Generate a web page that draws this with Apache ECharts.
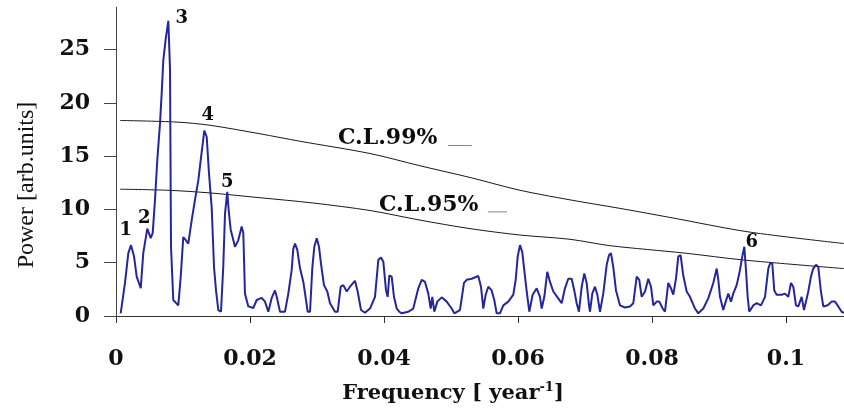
<!DOCTYPE html>
<html>
<head>
<meta charset="utf-8">
<script src="https://cdn.jsdelivr.net/npm/echarts@6/dist/echarts.min.js"></script>
<style>
html,body{margin:0;padding:0;background:#fff;}
#c{width:844px;height:408px;}
</style>
</head>
<body>
<div id="c"></div>
<script>
// ---- data ----
const freq = [0.0007,0.00134,0.00184,0.00224,0.00269,0.00309,0.00369,0.00407,0.00467,0.00518,0.00548,0.00582,0.00616,0.00657,0.00682,0.00706,0.00742,0.00781,0.00806,0.00821,0.00855,0.0093,0.00966,0.01004,0.01045,0.01079,0.0113,0.01179,0.01228,0.01264,0.01318,0.01354,0.01388,0.01428,0.01463,0.01493,0.01527,0.01567,0.01601,0.01627,0.01661,0.01682,0.01712,0.01776,0.01825,0.01876,0.019,0.01925,0.01975,0.02049,0.021,0.02175,0.02224,0.02273,0.02324,0.02373,0.02399,0.02448,0.02522,0.02572,0.02622,0.02646,0.02672,0.02706,0.02746,0.02796,0.02836,0.02861,0.02896,0.0293,0.0296,0.02996,0.0303,0.0306,0.03104,0.03154,0.03194,0.03269,0.03309,0.03354,0.03393,0.03443,0.03493,0.03567,0.03607,0.03657,0.03716,0.03791,0.03866,0.03915,0.03955,0.0399,0.0403,0.04055,0.04079,0.04115,0.04149,0.0419,0.04228,0.04264,0.04363,0.04437,0.04512,0.04563,0.04612,0.04661,0.04697,0.04721,0.04751,0.04796,0.04861,0.04936,0.0501,0.05049,0.05134,0.05194,0.05234,0.05309,0.05407,0.05448,0.05482,0.05518,0.05557,0.05607,0.05646,0.05682,0.05731,0.05781,0.05855,0.0593,0.05966,0.05996,0.0603,0.06064,0.06094,0.0613,0.06169,0.06219,0.06279,0.06328,0.06354,0.06393,0.06437,0.06478,0.06527,0.06601,0.06652,0.06701,0.06751,0.06801,0.0684,0.06876,0.0691,0.06951,0.0699,0.07025,0.0706,0.07075,0.07109,0.07149,0.07184,0.07224,0.07273,0.07324,0.07358,0.07388,0.07422,0.07463,0.07522,0.07597,0.07672,0.07721,0.07772,0.0781,0.07846,0.07896,0.07945,0.07985,0.0802,0.0807,0.08109,0.0816,0.08194,0.08243,0.08284,0.08318,0.08358,0.08393,0.08428,0.08467,0.08518,0.08567,0.08642,0.08691,0.08766,0.0884,0.08915,0.08966,0.0899,0.09015,0.09064,0.091,0.09139,0.09179,0.09213,0.09264,0.09313,0.09348,0.09378,0.09403,0.09428,0.09452,0.09512,0.09563,0.09627,0.09687,0.09736,0.09766,0.09796,0.09825,0.09861,0.09936,0.09985,0.10034,0.10075,0.10109,0.10149,0.10184,0.10234,0.10269,0.10294,0.10333,0.10373,0.10407,0.10448,0.10482,0.10522,0.10557,0.10622,0.10682,0.10731,0.10781,0.10831,0.10866];
const power = [0.25,3.1,5.9,6.65,5.6,3.7,2.6,5.9,8.2,7.3,7.8,10.9,14.6,18.1,20.9,24,26,27.7,23.2,6.5,1.5,1.0,3.7,7.4,7.1,6.8,9.0,10.9,12.7,14.6,17.4,16.8,13.4,10.2,4.6,2.4,0.55,0.4,4.6,9.6,11.65,9.9,8.1,6.5,7.1,8.4,7.8,2.1,0.9,0.75,1.5,1.7,1.35,0.4,1.7,2.4,1.8,0.4,0.4,2.1,4.3,6.3,6.8,6.2,4.5,3.2,1.5,0.4,0.4,4.5,6.5,7.3,6.5,4.9,2.9,2.3,1.2,0.4,0.4,2.75,2.9,2.3,2.75,3.3,2.3,0.56,0.3,0.7,1.8,5.25,5.5,5.1,2.4,1.8,3.8,3.7,1.8,0.7,0.4,0.25,0.4,0.7,2.6,3.4,3.2,2.1,0.7,1.8,0.4,1.35,1.75,1.35,0.7,0.25,0.56,3.1,3.4,3.5,3.75,2.75,0.7,2.0,2.75,2.4,1.5,0.25,0.25,1.0,1.35,2.0,3.4,5.6,6.65,6.0,4.3,2.3,0.4,2.0,2.6,1.8,0.7,1.8,4.15,3.2,2.3,1.65,1.2,2.6,3.5,3.5,2.4,1.2,0.4,2.75,4.0,3.1,1.0,0.4,2.1,2.75,2.0,0.4,2.1,4.8,5.7,5.9,4.6,2.4,1.0,0.8,0.9,1.2,3.7,3.4,1.8,2.3,3.5,2.75,1.0,1.35,1.35,0.7,0.4,3.1,2.6,2.0,3.5,5.6,5.7,3.8,2.3,1.8,0.7,0.25,0.7,1.65,3.1,4.45,3.4,1.8,0.56,1.35,2.1,1.35,2.1,2.9,4.3,5.6,6.5,4.3,1.8,0.4,1.0,1.2,1.0,1.8,4.45,5.0,4.9,2.4,2.0,2.0,2.1,1.8,3.1,2.75,1.0,0.9,1.8,0.56,0.4,2.3,3.7,4.45,4.8,4.6,2.3,0.9,1.0,1.35,1.35,0.9,0.4,0.3];

const cl99Freq  = [0.0006,0.0091,0.01403,0.02149,0.02746,0.03791,0.04537,0.05284,0.0603,0.06776,0.07522,0.08269,0.09433,0.10866];
const cl99Power = [18.35,18.2,17.9,17.1,16.4,15.25,14.1,13.0,11.8,10.9,10.1,9.25,7.9,6.8];
const cl95Freq  = [0.0006,0.00776,0.01403,0.02149,0.02949,0.03791,0.04537,0.05284,0.0603,0.06776,0.07373,0.08493,0.09373,0.10866];
const cl95Power = [11.9,11.8,11.55,11.1,10.6,9.9,9.0,8.2,7.6,7.2,6.6,5.9,5.25,4.45];

const xTicks = [0, 0.02, 0.04, 0.06, 0.08, 0.1];
const yTicks = [0, 5, 10, 15, 20, 25];

const peakNames = ['1', '2', '3', '4', '5', '6'];
const peakLabelFreq  = [0.00145, 0.00422, 0.00981, 0.01369, 0.01661, 0.09488];
const peakLabelPower = [8.05, 9.18, 27.9, 18.82, 12.55, 6.96];

const clNames = ['C.L.99%', 'C.L.95%'];
const clLabelFreq  = [0.03313, 0.03925];
const clLabelPower = [16.67, 10.39];
const clTailFreq  = [[0.04955, 0.05313], [0.05552, 0.05836]];
const clTailPower = [16.0, 9.77];

// ---- chart ----
const SERIF = 'DejaVu Serif';
const zip = (a, b) => a.map((v, i) => [v, b[i]]);
const isTick = (list, v) => list.some(t => Math.abs(t - v) < 1e-9);

const chart = echarts.init(document.getElementById('c'), null, {renderer: 'canvas'});

const textLabel = (size, align) => ({
  show: true, position: 'inside', formatter: p => p.name,
  fontFamily: SERIF, fontWeight: 'bold', fontSize: size, color: '#0d0d0d',
  textBorderWidth: 0, textShadowBlur: 0, opacity: 1,
  align: align, verticalAlign: 'middle'
});

const series = [
  {
    type: 'line', data: zip(freq, power), symbol: 'none', silent: true,
    lineStyle: {color: '#26269c', width: 2}, z: 3
  },
  {
    type: 'line', data: zip(cl99Freq, cl99Power), symbol: 'none', smooth: 0.3, silent: true,
    lineStyle: {color: '#1a1a1a', width: 1}, z: 2
  },
  {
    type: 'line', data: zip(cl95Freq, cl95Power), symbol: 'none', smooth: 0.3, silent: true,
    lineStyle: {color: '#1a1a1a', width: 1}, z: 2
  },
  {
    type: 'scatter', symbolSize: 0, silent: true, z: 5,
    itemStyle: {color: 'rgba(0,0,0,0)', opacity: 1},
    data: peakNames.map((n, i) => ({value: [peakLabelFreq[i], peakLabelPower[i]], name: n})),
    label: textLabel(18, 'center')
  },
  {
    type: 'scatter', symbolSize: 0, silent: true, z: 5,
    itemStyle: {color: 'rgba(0,0,0,0)', opacity: 1},
    data: clNames.map((n, i) => ({value: [clLabelFreq[i], clLabelPower[i]], name: n})),
    label: textLabel(22, 'left')
  }
];
clTailFreq.forEach((pair, i) => {
  series.push({
    type: 'line', symbol: 'none', silent: true, z: 4,
    data: pair.map(f => [f, clTailPower[i]]),
    lineStyle: {color: '#8c7f9c', width: 1}
  });
});

chart.setOption({
  animation: false,
  backgroundColor: '#ffffff',
  grid: {left: 116, right: 0, top: 7, bottom: 92, containLabel: false},
  xAxis: {
    type: 'value', min: 0, max: 0.10866, interval: 0.02,
    axisLine: {show: true, lineStyle: {color: '#333', width: 1}},
    axisTick: {show: true, length: 7, customValues: xTicks, lineStyle: {color: '#333'}},
    axisLabel: {
      margin: 32, showMaxLabel: false,
      formatter: v => isTick(xTicks, v) ? String(+v.toFixed(4)) : '',
      fontFamily: SERIF, fontWeight: 'bold', fontSize: 22, color: '#111'
    },
    splitLine: {show: false}
  },
  yAxis: {
    type: 'value', min: 0, max: 29, interval: 5,
    axisLine: {show: true, lineStyle: {color: '#444', width: 1}},
    axisTick: {show: true, length: 12, customValues: yTicks, lineStyle: {color: '#444'}},
    axisLabel: {
      margin: 26, showMaxLabel: false,
      formatter: v => isTick(yTicks, v) ? String(v) : '',
      fontFamily: SERIF, fontWeight: 'bold', fontSize: 22, color: '#111'
    },
    splitLine: {show: false}
  },
  graphic: [
    {
      type: 'text', x: 27, y: 185, rotation: Math.PI / 2, silent: true,
      style: {
        text: 'Power [arb.units]', fontFamily: 'Liberation Serif', fontSize: 24,
        fill: '#111', align: 'center', verticalAlign: 'middle'
      }
    },
    {
      type: 'text', x: 453, y: 394, silent: true,
      style: {
        text: '{b|Frequency [ year}{s|-1}{b|]}',
        align: 'center', verticalAlign: 'middle',
        rich: {
          b: {fontFamily: SERIF, fontWeight: 'bold', fontSize: 21, fill: '#111', color: '#111'},
          s: {fontFamily: SERIF, fontWeight: 'bold', fontSize: 13, fill: '#111', color: '#111', verticalAlign: 'top', padding: [0, 0, 12, 0]}
        }
      }
    }
  ],
  series: series
});
</script>
</body>
</html>
